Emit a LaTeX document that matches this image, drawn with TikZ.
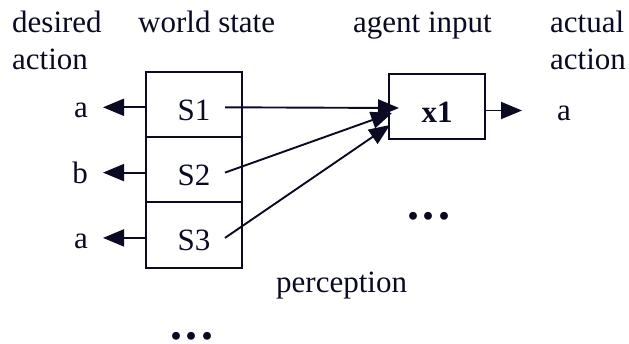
\documentclass[tikz,border=0pt]{standalone}
\usepackage{fontspec}
\setmainfont{Liberation Serif}
\usepackage{xcolor}
\usetikzlibrary{positioning,arrows.meta}
\definecolor{ink}{RGB}{10,10,35}

\begin{document}
\begin{tikzpicture}[
    x=1pt, y=-1pt,
    node distance=0pt, % cells are stacked edge to edge
    every node/.style={text=ink, font=\fontsize{31}{37}\selectfont},
    cell/.style={
        rectangle,
        draw=ink,
        fill=white,
        line width=1.9pt,
        minimum width=96pt,
        minimum height=65.3pt,
        text height=32pt,
        text depth=0pt,
        inner sep=0pt,
        outer sep=0pt
    },
    act/.style={
        inner sep=0pt,
        text height=27pt,
        text depth=0pt
    },
    line/.style={
        draw=ink,
        line width=1.9pt,
        -{Triangle[length=21pt,width=17pt]}
    },
    dots/.style={
        font=\fontsize{48}{48}\selectfont\bfseries,
        inner sep=0pt,
        text depth=0pt,
        anchor=base
    }
]
    \useasboundingbox (0,0) rectangle (629,343);

    % --- Nodes ---

    % Column headers
    \node [anchor=north west, align=left, inner sep=0pt] (hdes) at (12,11) {desired\\action};
    \node [anchor=base west, inner sep=0pt] (hwor) at (138,32) {world state};
    \node [anchor=base west, inner sep=0pt] (hage) at (353,32) {agent input};
    \node [anchor=north west, align=left, inner sep=0pt] (hact) at (550,11) {actual\\action};

    % World states, stacked
    \node [cell] (s1) at (194,104.3) {S1};
    \node [cell, below=of s1] (s2) {S2};
    \node [cell, below=of s2] (s3) {S3};

    % Desired actions to the left
    \node [act, left=58pt of s1] (d1) {a};
    \node [act, left=58pt of s2] (d2) {b};
    \node [act, left=58pt of s3] (d3) {a};

    % Agent input and its action
    \node [cell, font=\fontsize{31}{37}\selectfont\bfseries, right=147pt of s1, yshift=-2.2pt] (x1) {x1};
    \node [act, right=72pt of x1] (r1) {a};

    \node [anchor=base west, inner sep=0pt] (hper) at (276,292) {perception};
    \node [dots] (dmid) at (429,219.5) {.\kern4pt.\kern4pt.};
    \node [dots] (dbot) at (192,339) {.\kern4pt.\kern4pt.};

    % --- Connections ---

    % desired actions
    \path [line, shorten >=15pt] ([yshift=-3pt]s1.west) -- ([yshift=-3pt]d1.east);
    \path [line, shorten >=15pt] ([yshift=-3pt]s2.west) -- ([yshift=-3pt]d2.east);
    \path [line, shorten >=15pt] ([yshift=-3pt]s3.west) -- ([yshift=-3pt]d3.east);

    % perception of each state
    \path [line] ([xshift=-17pt,yshift=-3pt]s1.east) -- ([xshift=10pt,yshift=-1.5pt]x1.west);
    \path [line] ([xshift=-17pt,yshift=-3pt]s2.east) -- ([xshift=3pt,yshift=-6.5pt]x1.west);
    \path [line] ([xshift=-17pt,yshift=-3pt]s3.east) -- ([xshift=1pt,yshift=-18.5pt]x1.west);

    % actual action
    \path [line, shorten >=35pt] ([yshift=-4pt]x1.east) -- ([yshift=-4pt]r1.west);

\end{tikzpicture}
\end{document}
